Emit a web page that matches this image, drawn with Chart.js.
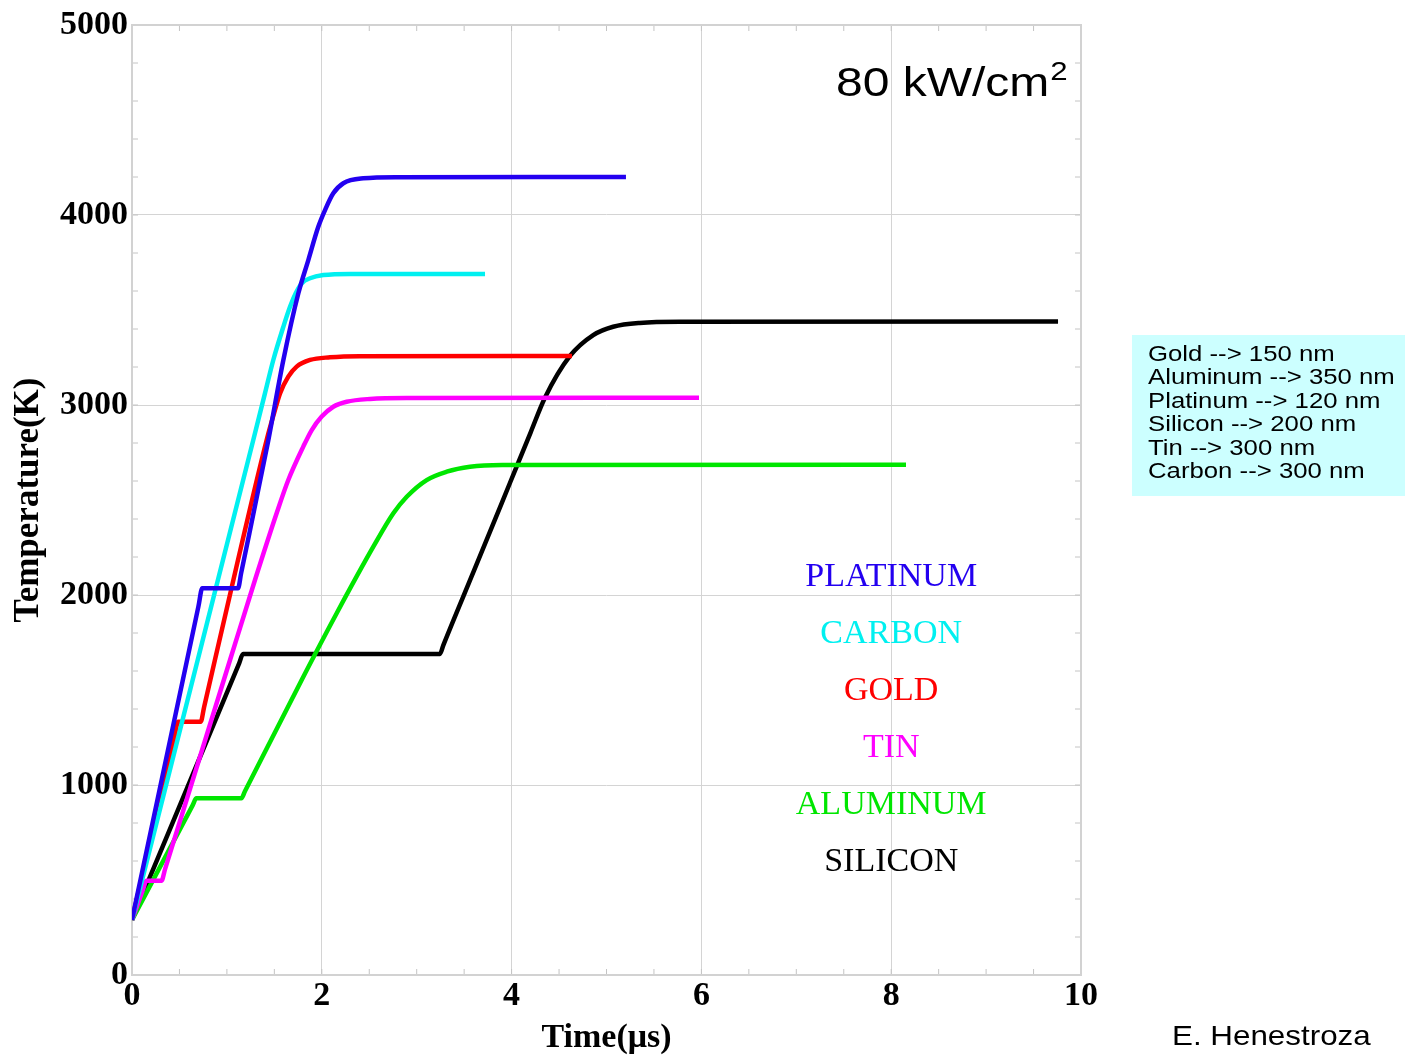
<!DOCTYPE html>
<html>
<head>
    <title>Temperature vs time, 80 kW/cm2</title>
    <script src="https://cdn.jsdelivr.net/npm/chart.js@4.4.0/dist/chart.umd.min.js"></script>
    <style>
        body { margin: 0; background: #fff; }
    </style>
</head>
<body>
    <canvas id="myChart" width="1405" height="1057"></canvas>

    <script>
        // time in microseconds, temperature in K
        var platinumTime = [0, 0.70, 0.74, 1.117, 1.15, 1.437, 1.595, 1.753, 1.858, 1.963, 2.034, 2.121, 2.227, 2.437, 2.79, 5.205];
        var platinumTemp = [290, 1940, 2035, 2035, 2115, 2816, 3237, 3588, 3763, 3938, 4026, 4114, 4167, 4193, 4199, 4200];

        var carbonTime = [0, 1.278, 1.401, 1.489, 1.595, 1.665, 1.725, 1.788, 1.876, 2.016, 2.3, 3.72];
        var carbonTemp = [290, 2816, 3061, 3237, 3412, 3517, 3588, 3640, 3667, 3684, 3690, 3690];

        var goldTime = [0, 0.45, 0.485, 0.724, 0.76, 1.117, 1.419, 1.507, 1.56, 1.647, 1.735, 1.876, 2.086, 2.4, 4.636];
        var goldTemp = [290, 1258, 1333, 1333, 1411, 2184, 2816, 2974, 3061, 3149, 3202, 3237, 3251, 3257, 3258];

        var tinTime = [0, 0.12, 0.15, 0.31, 0.35, 1.033, 1.296, 1.524, 1.647, 1.805, 1.894, 1.999, 2.121, 2.262, 2.508, 2.9, 5.975];
        var tinTemp = [290, 455, 496, 496, 560, 1658, 2079, 2430, 2605, 2781, 2868, 2939, 2991, 3017, 3032, 3037, 3038];

        var aluminumTime = [0, 0.64, 0.678, 1.152, 1.19, 1.788, 2.157, 2.543, 2.754, 2.895, 3.105, 3.316, 3.562, 3.9, 8.156];
        var aluminumTemp = [290, 894, 930, 930, 967, 1553, 1904, 2254, 2430, 2517, 2605, 2649, 2675, 2684, 2686];

        var siliconTime = [0, 1.13, 1.17, 3.245, 3.28, 3.597, 3.896, 4.054, 4.20, 4.35, 4.615, 4.86, 5.07, 5.35, 5.8, 9.758];
        var siliconTemp = [290, 1642, 1690, 1690, 1735, 2120, 2484, 2677, 2855, 3037, 3258, 3368, 3412, 3432, 3438, 3440];

        var materialNames = ['PLATINUM', 'CARBON', 'GOLD', 'TIN', 'ALUMINUM', 'SILICON'];
        var materialColors = ['rgb(35,0,240)', 'rgb(0,240,240)', 'rgb(255,0,0)', 'rgb(255,0,255)', 'rgb(0,230,0)', 'rgb(0,0,0)'];
        var nameLabelTime = 8;
        var nameLabelTemp = [2050, 1750, 1450, 1150, 850, 550];

        var thicknessNotes = ['Gold --> 150 nm', 'Aluminum --> 350 nm', 'Platinum --> 120 nm',
                              'Silicon --> 200 nm', 'Tin --> 300 nm', 'Carbon --> 300 nm'];

        function toPoints(xs, ys) {
            var pts = [];
            for (var i = 0; i < xs.length; i++) pts.push({ x: xs[i], y: ys[i] });
            return pts;
        }

        var seriesData = [
            toPoints(platinumTime, platinumTemp),
            toPoints(carbonTime, carbonTemp),
            toPoints(goldTime, goldTemp),
            toPoints(tinTime, tinTemp),
            toPoints(aluminumTime, aluminumTemp),
            toPoints(siliconTime, siliconTemp)
        ];

        var datasets = seriesData.map(function (d, i) {
            return {
                label: materialNames[i],
                data: d,
                borderColor: materialColors[i],
                borderWidth: 4.5,
                pointRadius: 0,
                cubicInterpolationMode: 'monotone',
                fill: false
            };
        });

        var serif = "'Liberation Serif', 'Times New Roman', serif";
        var sans = "'Liberation Sans', Arial, sans-serif";

        function stretchedText(ctx, text, x, y, size, sx) {
            ctx.save();
            ctx.translate(x, y);
            ctx.scale(sx, 1);
            ctx.font = size + 'px ' + sans;
            ctx.fillText(text, 0, 0);
            var w = ctx.measureText(text).width * sx;
            ctx.restore();
            return w;
        }

        var decor = {
            id: 'decor',
            beforeDatasetsDraw: function (chart) {
                var ctx = chart.ctx, a = chart.chartArea;
                var xs = chart.scales.x, ys = chart.scales.y;
                ctx.save();
                ctx.strokeStyle = '#c4c4c4';
                ctx.lineWidth = 1;
                ctx.beginPath();
                for (var t = 0.5; t < 10; t += 0.5) {
                    var px = xs.getPixelForValue(t);
                    ctx.moveTo(px, a.bottom); ctx.lineTo(px, a.bottom - 6);
                    ctx.moveTo(px, a.top); ctx.lineTo(px, a.top + 6);
                }
                for (var k = 200; k < 5000; k += 200) {
                    var py = ys.getPixelForValue(k);
                    ctx.moveTo(a.left, py); ctx.lineTo(a.left + 6, py);
                    ctx.moveTo(a.right, py); ctx.lineTo(a.right - 6, py);
                }
                ctx.stroke();
                ctx.strokeStyle = '#d2d2d2';
                ctx.lineWidth = 2;
                ctx.strokeRect(a.left, a.top, a.right - a.left, a.bottom - a.top);
                ctx.restore();
            },
            afterDraw: function (chart) {
                var ctx = chart.ctx;
                var xs = chart.scales.x, ys = chart.scales.y;
                ctx.save();

                // material names inside the plot
                ctx.font = '34px ' + serif;
                ctx.textAlign = 'center';
                ctx.textBaseline = 'alphabetic';
                for (var i = 0; i < materialNames.length; i++) {
                    ctx.fillStyle = materialColors[i];
                    ctx.fillText(materialNames[i], xs.getPixelForValue(nameLabelTime), ys.getPixelForValue(nameLabelTemp[i]));
                }

                // power density
                ctx.fillStyle = '#000';
                ctx.textAlign = 'left';
                var w = stretchedText(ctx, '80 kW/cm', 836, 96, 40, 1.2);
                stretchedText(ctx, '2', 836 + w + 1, 80, 26, 1.2);

                // thickness box
                ctx.fillStyle = 'rgb(204,255,255)';
                ctx.fillRect(1132, 335, 273, 161);
                ctx.fillStyle = '#000';
                for (var j = 0; j < thicknessNotes.length; j++) {
                    stretchedText(ctx, thicknessNotes[j], 1148, 361 + j * 23.4, 22, 1.17);
                }

                stretchedText(ctx, 'E. Henestroza', 1172, 1045, 28, 1.12);

                ctx.restore();
            }
        };

        var ctx = document.getElementById('myChart').getContext('2d');
        var chart = new Chart(ctx, {
            type: 'line',
            data: { datasets: datasets },
            options: {
                responsive: false,
                animation: false,
                layout: { padding: { left: 0, right: 324, top: 25, bottom: 0 } },
                plugins: {
                    legend: { display: false },
                    tooltip: { enabled: false }
                },
                scales: {
                    x: {
                        type: 'linear',
                        min: 0,
                        max: 10,
                        ticks: {
                            stepSize: 2,
                            color: '#000',
                            padding: 1,
                            font: { family: serif, size: 34, weight: 'bold' },
                            callback: function (v) { return String(v); }
                        },
                        grid: { color: '#d4d4d4', lineWidth: 1, drawTicks: false },
                        border: { display: false },
                        title: {
                            display: true,
                            text: 'Time(\u03bcs)',
                            color: '#000',
                            padding: 0,
                            font: { family: serif, size: 34, weight: 'bold', lineHeight: 1.1 }
                        },
                        afterFit: function (s) { s.height = 82; }
                    },
                    y: {
                        min: 0,
                        max: 5000,
                        ticks: {
                            stepSize: 1000,
                            color: '#000',
                            padding: 4,
                            font: { family: serif, size: 34, weight: 'bold' },
                            callback: function (v) { return String(v); }
                        },
                        grid: { color: '#d4d4d4', lineWidth: 1, drawTicks: false },
                        border: { display: false },
                        title: {
                            display: true,
                            text: 'Temperature(K)',
                            color: '#000',
                            padding: { top: 8, bottom: 0 },
                            font: { family: serif, size: 35, weight: 'bold' }
                        },
                        afterFit: function (s) { s.width = 132; }
                    }
                }
            },
            plugins: [decor]
        });
    </script>
</body>
</html>
